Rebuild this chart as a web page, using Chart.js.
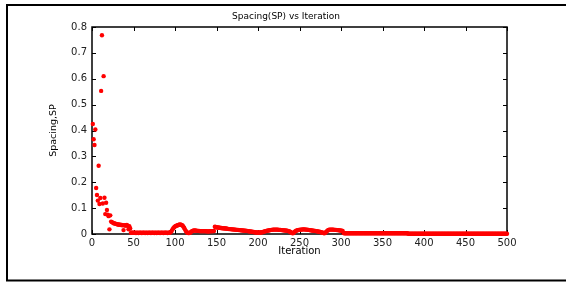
<!DOCTYPE html>
<html>
<head>
<meta charset="utf-8">
<script src="https://cdn.jsdelivr.net/npm/chart.js@4.4.1/dist/chart.umd.min.js"></script>
<style>
  body { margin: 0; background: #fff; }
  canvas { display: block; }
</style>
</head>
<body>
<canvas id="spacingChart" width="566" height="283"></canvas>
<script>
var chartTitle = 'Spacing(SP) vs Iteration';
var xLabel = 'Iteration';
var yLabel = 'Spacing,SP';
var xTicks = [0, 50, 100, 150, 200, 250, 300, 350, 400, 450, 500];
var yTicks = [0, 0.1, 0.2, 0.3, 0.4, 0.5, 0.6, 0.7, 0.8];

// spacing value at each iteration 1..500
var spacing = [
  0.425,0.366,0.344,0.404,0.178,0.151,0.129,0.264,0.116,0.139,0.553,0.768,0.118,0.610,0.140,0.077,0.121,0.093,0.075,0.069,0.018,0.072,0.048,0.046,0.044,
  0.042,0.041,0.040,0.039,0.038,0.037,0.037,0.036,0.036,0.035,0.035,0.034,0.015,0.034,0.033,0.033,0.035,0.032,0.018,0.030,0.021,0.005,0.005,0.005,0.005,
  0.005,0.005,0.004,0.005,0.005,0.004,0.005,0.005,0.005,0.004,0.005,0.005,0.005,0.004,0.005,0.005,0.004,0.005,0.005,0.005,0.004,0.005,0.005,0.005,0.004,
  0.005,0.005,0.004,0.005,0.005,0.005,0.004,0.005,0.005,0.005,0.004,0.005,0.005,0.005,0.005,0.004,0.005,0.005,0.006,0.008,0.012,0.018,0.022,0.026,0.029,
  0.031,0.032,0.034,0.035,0.036,0.037,0.036,0.035,0.033,0.029,0.024,0.018,0.012,0.008,0.005,0.004,0.004,0.005,0.007,0.010,0.012,0.013,0.014,0.014,0.013,
  0.013,0.012,0.012,0.012,0.011,0.011,0.011,0.011,0.011,0.011,0.011,0.011,0.011,0.010,0.010,0.010,0.011,0.011,0.011,0.011,0.011,0.012,0.028,0.027,0.026,
  0.025,0.025,0.024,0.024,0.023,0.023,0.022,0.022,0.022,0.021,0.021,0.021,0.020,0.020,0.019,0.019,0.019,0.018,0.018,0.018,0.017,0.017,0.017,0.016,0.016,
  0.016,0.015,0.015,0.015,0.014,0.014,0.014,0.013,0.013,0.013,0.012,0.012,0.011,0.011,0.010,0.010,0.009,0.009,0.008,0.008,0.007,0.007,0.006,0.006,0.006,
  0.006,0.006,0.006,0.007,0.007,0.008,0.009,0.010,0.011,0.012,0.013,0.013,0.014,0.015,0.015,0.016,0.016,0.017,0.017,0.017,0.017,0.017,0.017,0.017,0.016,
  0.016,0.016,0.015,0.015,0.015,0.014,0.014,0.014,0.013,0.013,0.012,0.011,0.010,0.008,0.006,0.004,0.003,0.005,0.008,0.011,0.013,0.014,0.015,0.016,0.016,
  0.017,0.017,0.017,0.018,0.018,0.018,0.017,0.017,0.017,0.016,0.016,0.015,0.015,0.014,0.014,0.013,0.013,0.012,0.012,0.011,0.011,0.010,0.009,0.009,0.008,
  0.007,0.006,0.005,0.004,0.003,0.005,0.008,0.011,0.014,0.016,0.017,0.017,0.017,0.017,0.017,0.017,0.016,0.016,0.016,0.015,0.015,0.015,0.014,0.014,0.013,
  0.013,0.012,0.004,0.003,0.003,0.003,0.003,0.003,0.003,0.003,0.003,0.003,0.003,0.003,0.003,0.003,0.003,0.003,0.003,0.003,0.003,0.003,0.003,0.003,0.003,
  0.003,0.003,0.003,0.003,0.003,0.003,0.003,0.003,0.003,0.003,0.003,0.003,0.003,0.003,0.003,0.003,0.003,0.003,0.003,0.003,0.003,0.003,0.003,0.003,0.003,
  0.003,0.003,0.003,0.003,0.003,0.003,0.003,0.003,0.003,0.003,0.003,0.003,0.003,0.003,0.003,0.003,0.003,0.003,0.003,0.003,0.003,0.003,0.003,0.003,0.003,
  0.003,0.003,0.003,0.003,0.003,0.001,0.001,0.001,0.001,0.001,0.001,0.001,0.001,0.001,0.001,0.001,0.001,0.001,0.001,0.001,0.001,0.001,0.001,0.001,0.001,
  0.001,0.001,0.001,0.001,0.001,0.001,0.001,0.001,0.001,0.001,0.001,0.001,0.001,0.001,0.001,0.001,0.001,0.001,0.001,0.001,0.001,0.001,0.001,0.001,0.001,
  0.001,0.001,0.001,0.001,0.001,0.001,0.001,0.001,0.001,0.001,0.001,0.001,0.001,0.001,0.001,0.001,0.001,0.001,0.001,0.001,0.001,0.001,0.001,0.001,0.001,
  0.001,0.001,0.001,0.001,0.001,0.001,0.001,0.001,0.001,0.001,0.001,0.001,0.001,0.001,0.001,0.001,0.001,0.001,0.001,0.001,0.001,0.001,0.001,0.001,0.001,
  0.001,0.001,0.001,0.001,0.001,0.001,0.001,0.001,0.001,0.001,0.001,0.001,0.001,0.001,0.001,0.001,0.001,0.001,0.001,0.001,0.001,0.001,0.001,0.001,0.001
];

var points = [];
for (let i = 0; i < spacing.length; i++) {
  points.push({ x: i + 1, y: spacing[i] });
}

var tickFont = { family: 'DejaVu Sans', size: 10 };

// outer figure frame, axes box with inward ticks, and the title
var framePlugin = {
  id: 'frame',
  beforeDraw: function (chart) {
    var c = chart.ctx;
    c.save();
    c.strokeStyle = '#000';
    c.lineWidth = 2;
    c.beginPath();
    c.moveTo(566, 5);
    c.lineTo(7, 5);
    c.lineTo(7, 280.5);
    c.lineTo(566, 280.5);
    c.stroke();
    c.restore();
  },
  beforeDatasetsDraw: function (chart) {
    var c = chart.ctx;
    var a = chart.chartArea;
    var xs = chart.scales.x, ys = chart.scales.y;
    c.save();
    c.strokeStyle = '#000';
    c.lineWidth = 1.5;
    c.strokeRect(a.left, a.top, a.right - a.left, a.bottom - a.top);
    c.lineWidth = 1;
    c.beginPath();
    xTicks.forEach(function (v) {
      var px = Math.round(xs.getPixelForValue(v)) + 0.5;
      c.moveTo(px, a.bottom); c.lineTo(px, a.bottom - 4);
      c.moveTo(px, a.top); c.lineTo(px, a.top + 4);
    });
    yTicks.forEach(function (v) {
      var py = Math.round(ys.getPixelForValue(v)) + 0.5;
      c.moveTo(a.left, py); c.lineTo(a.left + 4, py);
      c.moveTo(a.right, py); c.lineTo(a.right - 4, py);
    });
    c.stroke();
    c.restore();
  },
  afterDraw: function (chart) {
    var c = chart.ctx;
    c.save();
    c.fillStyle = '#000';
    c.font = '9px "DejaVu Sans"';
    c.textAlign = 'center';
    c.textBaseline = 'middle';
    c.fillText(chartTitle, 286, 17);
    c.restore();
  }
};

var ctx = document.getElementById('spacingChart');
var chart = new Chart(ctx, {
  type: 'scatter',
  data: {
    datasets: [{
      data: points,
      backgroundColor: '#ff0000',
      borderWidth: 0,
      pointRadius: 2.2,
      pointHoverRadius: 2.2,
      clip: false
    }]
  },
  options: {
    responsive: false,
    animation: false,
    events: [],
    layout: { padding: { top: 27, right: 59, left: 0, bottom: 0 } },
    plugins: {
      legend: { display: false },
      tooltip: { enabled: false },
      title: { display: false }
    },
    scales: {
      x: {
        type: 'linear',
        min: 0,
        max: 500,
        afterBuildTicks: function (s) { s.ticks = xTicks.map(function (v) { return { value: v }; }); },
        afterFit: function (s) { s.height = 49; },
        grid: { display: false, drawTicks: false },
        border: { display: false },
        ticks: { font: tickFont, color: '#222', padding: 3, maxRotation: 0, autoSkip: false,
                 callback: function (v) { return String(v); } },
        title: { display: true, text: xLabel, color: '#000', font: { family: 'DejaVu Sans', size: 10 },
                 padding: { top: 0, bottom: 25.5 } }
      },
      y: {
        min: 0,
        max: 0.8,
        afterBuildTicks: function (s) { s.ticks = yTicks.map(function (v) { return { value: v }; }); },
        afterFit: function (s) { s.width = 92; },
        grid: { display: false, drawTicks: false },
        border: { display: false },
        ticks: { font: tickFont, color: '#222', padding: 5, autoSkip: false,
                 callback: function (v) { return String(v); } },
        title: { display: true, text: yLabel, color: '#000', font: { family: 'DejaVu Sans', size: 9.5 },
                 padding: { top: 48, bottom: 0 } }
      }
    }
  },
  plugins: [framePlugin]
});
</script>
</body>
</html>
